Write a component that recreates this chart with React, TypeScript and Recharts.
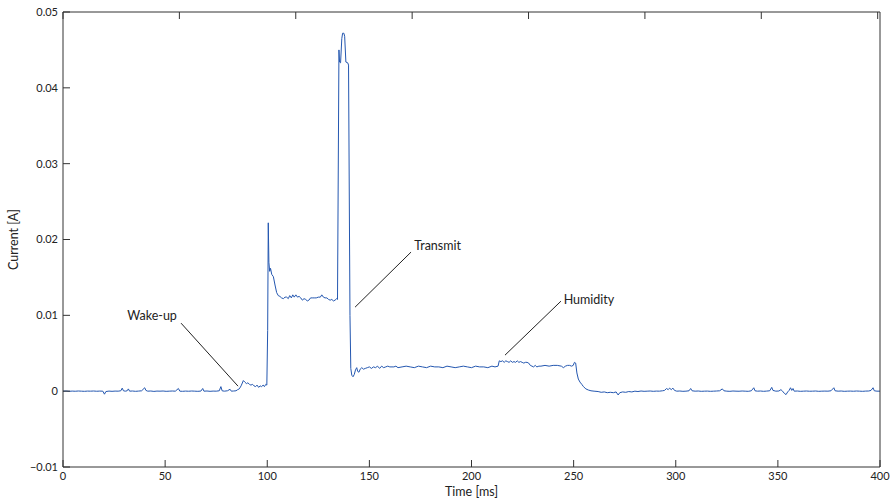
import { LineChart, Line, XAxis, YAxis, ReferenceLine, ReferenceDot } from 'recharts'

// current trace in mA, [time ms, current mA]
const sleepBefore: [number, number][] = [
  [0, 0], [1.5, 0.02], [3, -0.02], [4.5, 0.01], [6, -0.01], [7.5, 0.02], [9, 0], [10.5, -0.02],
  [12, 0.01], [13.5, 0], [15, 0.02], [16.5, -0.01], [18, 0.01], [19.5, 0], [20.3, -0.4], [21, -0.05],
  [22.5, 0.01], [24, -0.02], [25.5, 0.01], [27, 0], [28.3, 0.05], [29, 0.4], [29.6, 0.05], [30.5, 0],
  [31.4, 0.05], [32, 0.3], [32.6, 0], [34, 0.02], [35.5, -0.02], [37, 0.01], [38.5, 0.05], [40, 0.45],
  [40.6, 0.1], [41.5, 0], [43, 0.02], [44.5, -0.03], [46, 0.01], [47.5, 0], [49, 0.02], [50.5, -0.02],
  [52, 0], [53.5, 0.02], [55, 0], [56.5, 0.35], [57.2, 0], [58.5, -0.02], [60, 0.01], [61.5, -0.01],
  [63, 0.02], [64.5, 0], [66, -0.02], [67.5, 0.01], [68.4, 0.35], [69, 0], [70.5, 0.02], [72, -0.02],
  [73.5, 0.01], [75, 0], [76.5, 0.05], [77.3, 0.6], [77.9, 0.05], [79, 0], [80.5, 0.05], [81.8, 0.25],
  [82.4, 0], [83.5, 0.02], [84.7, 0.05],
]

const wakeUp: [number, number][] = [
  [85.5, 0.2], [86.3, 0.3], [87.2, 0.7], [88.3, 1.4], [89, 1.2], [89.8, 1.0], [90.5, 1.1], [91.3, 0.9],
  [92, 0.8], [92.8, 0.9], [93.5, 0.7], [94.3, 0.6], [95, 0.8], [95.8, 0.5], [96.5, 0.7], [97.2, 0.6],
  [98, 0.8], [98.6, 0.6], [99.3, 0.9], [99.8, 0.8],
]

const sensing: [number, number][] = [
  [100.2, 8], [100.5, 22.2], [100.8, 17], [101.2, 15.8], [101.6, 16.2], [102.2, 15.4], [103, 15.1],
  [103.8, 14], [104.6, 13], [105.4, 12.6], [106.2, 12.5], [107, 12.3], [107.9, 12.2], [108.7, 12.4],
  [109.5, 12.4], [110.3, 12.2], [111, 12.6], [111.8, 12.3], [112.5, 12.7], [113.2, 12.4], [114, 12.7],
  [114.8, 12.4], [115.6, 12.5], [116.4, 12.3], [117.2, 12.0], [118, 12.2], [118.8, 12.1], [119.6, 11.9],
  [120.4, 12.0], [121.2, 12.3], [122, 12.3], [123, 12.3], [124, 12.3], [125, 12.4], [126, 12.4],
  [126.7, 12.7], [127.5, 12.4], [128.3, 12.3], [129.2, 12.3], [130, 12.1], [130.8, 12.0], [131.6, 12.1],
  [132.4, 11.9], [133.2, 12.0], [134, 12.2], [134.4, 12.1],
]

const transmit: [number, number][] = [
  [135.1, 45.0], [135.4, 43.4], [135.9, 43.3], [136.5, 46.5], [136.9, 47.2], [137.5, 47.2], [137.9, 46.8],
  [138.5, 43.4], [139.4, 43.3], [139.8, 43.0], [140.5, 10], [140.9, 3.0], [141.4, 2.1], [142, 1.9],
  [142.6, 2.2], [143.2, 2.8], [143.8, 3.1], [144.3, 2.6], [144.9, 2.5], [145.5, 2.9], [146.3, 3.1],
  [147.1, 2.9], [148, 3.0], [149, 3.1],
]

const plateau: [number, number][] = [
  [150, 3.2], [151, 3.0], [152, 3.2], [153, 3.1], [154, 3.3], [155, 3.0], [156, 3.3], [157, 3.1],
  [158, 3.2], [159, 3.3], [160, 3.2], [162, 3.2], [163, 3.3], [164, 3.1], [166, 3.2], [168, 3.3],
  [170, 3.2], [172, 3.1], [174, 3.3], [176, 3.2], [178, 3.1], [180, 3.3], [182, 3.2], [184, 3.2],
  [186, 3.1], [188, 3.3], [190, 3.2], [192, 3.1], [194, 3.2], [196, 3.3], [198, 3.2], [200, 3.1],
  [202, 3.3], [204, 3.2], [206, 3.2], [208, 3.1], [210, 3.3], [211.5, 3.2], [213, 3.3],
]

const humidity: [number, number][] = [
  [213.6, 4.0], [214.4, 3.9], [215.2, 4.0], [216, 3.8], [216.8, 4.0], [217.6, 3.9], [218.4, 3.8],
  [219.2, 4.0], [220, 3.8], [220.8, 3.9], [221.6, 3.8], [222.4, 4.0], [223.2, 3.8], [224, 3.9],
  [224.8, 3.8], [225.6, 3.7], [226.4, 3.8], [227.2, 3.8], [228, 3.7], [228.8, 3.4], [229.6, 3.3],
  [230.4, 3.2], [231.2, 3.4], [232, 3.2], [233, 3.3], [234, 3.3], [236, 3.4], [238, 3.3], [240, 3.4],
  [242, 3.4], [244, 3.3], [245, 3.1], [246, 3.3], [247, 3.4], [248, 3.4], [249, 3.3], [249.8, 3.4],
  [250.4, 3.8], [251, 3.7], [251.6, 2.4], [252.3, 1.6], [253.1, 1.2], [254, 0.9], [254.8, 0.6],
  [256, 0.3], [257.2, 0.15], [258.5, 0.05], [260, 0], [262, -0.05],
]

const sleepAfter: [number, number][] = [
  [263.5, -0.15], [265, -0.1], [266.5, -0.2], [268, -0.15], [269.5, -0.2], [270.8, -0.1], [271.8, -0.5],
  [272.6, -0.2], [274, -0.1], [275.5, -0.15], [277, -0.05], [278.5, -0.1], [280, 0], [281.5, -0.05],
  [283, 0.02], [284.5, -0.02], [286, 0], [287.5, 0.02], [289, -0.02], [290.5, 0.01], [292, 0],
  [293.5, 0.05], [294.5, 0.1], [295.5, 0.35], [296.3, 0.2], [297, 0.4], [297.8, 0.2], [298.6, 0.4],
  [299.4, 0.1], [300.5, 0], [302, 0.02], [303.5, -0.02], [305, 0], [306.5, 0.05], [307.3, 0.35],
  [308, 0.05], [309.5, 0], [311, 0.02], [312.5, -0.02], [314, 0], [315.5, 0.01], [317, -0.02],
  [318.5, 0], [320, 0.02], [321.5, 0.05], [322.8, 0.3], [323.6, 0.05], [325, 0], [326.5, -0.02],
  [328, 0.02], [329.5, 0], [331, -0.01], [332.5, 0.02], [334, 0], [335.5, -0.02], [337, 0.05],
  [338.2, 0.45], [338.8, 0.05], [340, 0], [341.5, 0.02], [343, -0.02], [344.5, 0.01], [346, 0.05],
  [347, 0.5], [347.6, 0.1], [349, 0], [350.5, 0.02], [351.5, 0.2], [352.3, 0], [353.2, -0.3],
  [354, -0.45], [354.8, -0.1], [355.5, 0.1], [356.2, 0.45], [356.8, 0.1], [357.4, 0.35], [358, 0],
  [359.5, 0.02], [361, -0.02], [362.5, 0], [364, 0.02], [365.5, -0.01], [367, 0], [368.5, 0.02],
  [370, -0.02], [371.5, 0], [373, 0.01], [374.5, 0], [376, 0.05], [377.4, 0.45], [378, 0.05],
  [379.5, 0], [381, 0.02], [382.5, -0.02], [384, 0], [385.5, 0.01], [387, -0.01], [388.5, 0.02],
  [390, 0], [391.5, -0.02], [393, 0.01], [394.5, 0.02], [395.6, 0.1], [396.6, 0.45], [397.2, 0.05],
  [398.5, 0], [400, 0],
]

const xTicks = [0, 50, 100, 150, 200, 250, 300, 350, 400]
const yTicks = [-0.01, 0, 0.01, 0.02, 0.03, 0.04, 0.05]

// annotations: [label, text x, text y (mA), line from x, y, line to x, y]
const notes: [string, number, number, number, number, number, number][] = [
  ['Wake-up', 43.6, 10.0, 57.8, 8.97, 85.7, 0.66],
  ['Transmit', 183.4, 19.26, 170.4, 18.34, 143.0, 11.08],
  ['Humidity', 257.5, 12.14, 243.8, 11.87, 216.4, 4.75],
]

const data = [...sleepBefore, ...wakeUp, ...sensing, ...transmit, ...plateau, ...humidity, ...sleepAfter].map(
  ([t, mA]) => ({ t, i: mA / 1000 })
)

const FONT = 'Lato, "DejaVu Sans", sans-serif'
const AXIS = '#333'
const TEXT = '#222'
const TICK = 7 // inward tick length
const GAP = 5 // label gap from axis

const fmtY = (v: number) => (v === 0 ? '0' : v < 0 ? '\u2212' + Math.abs(v).toFixed(2) : v.toFixed(2))

// matlab style: ticks point into the plot
const BottomTick = ({ x, y, payload }: any) => (
  <g>
    <line x1={x} x2={x} y1={y - GAP} y2={y - GAP - TICK} stroke={AXIS} />
    <text x={x} y={y} dy='0.75em' textAnchor='middle' fontSize={11} fontFamily={FONT} fill={TEXT}>
      {payload.value}
    </text>
  </g>
)

const LeftTick = ({ x, y, payload }: any) => (
  <g>
    <line x1={x + GAP} x2={x + GAP + TICK} y1={y} y2={y} stroke={AXIS} />
    <text x={x} y={y} dy='0.35em' textAnchor='end' fontSize={11} fontFamily={FONT} fill={TEXT}>
      {fmtY(payload.value)}
    </text>
  </g>
)

const TopTick = ({ x, y }: any) => <line x1={x} x2={x} y1={y} y2={y + TICK} stroke={AXIS} />
const RightTick = ({ x, y }: any) => <line x1={x} x2={x - TICK} y1={y} y2={y} stroke={AXIS} />

export default function App() {
  return (
    <div style={{ width: 893, height: 500, background: '#fff' }}>
      <style>{'body{margin:0}'}</style>
      <LineChart width={893} height={500} data={data} margin={{ top: 11, right: 12, bottom: 0, left: 8 }}>
        <XAxis
          dataKey='t'
          type='number'
          domain={[0, 400]}
          ticks={xTicks}
          interval={0}
          height={33}
          stroke={AXIS}
          tickLine={false}
          tickSize={0}
          tickMargin={GAP}
          tick={<BottomTick />}
          label={{ value: 'Time [ms]', position: 'insideBottom', offset: 4, fontSize: 12.5, fill: TEXT, fontFamily: FONT }}
        />
        <XAxis
          xAxisId='top'
          orientation='top'
          type='number'
          domain={[0, 400]}
          ticks={xTicks}
          interval={0}
          height={1}
          stroke={AXIS}
          tickLine={false}
          tickSize={0}
          tickMargin={0}
          tick={<TopTick />}
        />
        <YAxis
          type='number'
          domain={[-0.01, 0.05]}
          ticks={yTicks}
          interval={0}
          width={55}
          stroke={AXIS}
          tickLine={false}
          tickSize={0}
          tickMargin={GAP}
          tick={<LeftTick />}
          label={{
            value: 'Current [A]',
            angle: -90,
            position: 'insideLeft',
            offset: 6,
            fontSize: 12.5,
            fill: TEXT,
            fontFamily: FONT,
            style: { textAnchor: 'middle' },
          }}
        />
        <YAxis
          yAxisId='right'
          orientation='right'
          type='number'
          domain={[-0.01, 0.05]}
          ticks={yTicks}
          interval={0}
          width={1}
          stroke={AXIS}
          tickLine={false}
          tickSize={0}
          tickMargin={0}
          tick={<RightTick />}
        />
        <Line
          type='linear'
          dataKey='i'
          stroke='#2457b0'
          strokeWidth={1}
          dot={false}
          isAnimationActive={false}
        />
        {notes.map(([label, , , x1, y1, x2, y2]) => (
          <ReferenceLine
            key={label + '-line'}
            segment={[
              { x: x1, y: y1 / 1000 },
              { x: x2, y: y2 / 1000 },
            ]}
            stroke={TEXT}
            strokeWidth={1}
          />
        ))}
        {notes.map(([label, tx, ty]) => (
          <ReferenceDot
            key={label}
            x={tx}
            y={ty / 1000}
            r={0}
            shape={(p: any) => (
              <text
                x={p.cx}
                y={p.cy}
                textAnchor='middle'
                dominantBaseline='central'
                fontSize={12.5}
                fontFamily={FONT}
                fill={TEXT}
              >
                {label}
              </text>
            )}
          />
        ))}
      </LineChart>
    </div>
  )
}
